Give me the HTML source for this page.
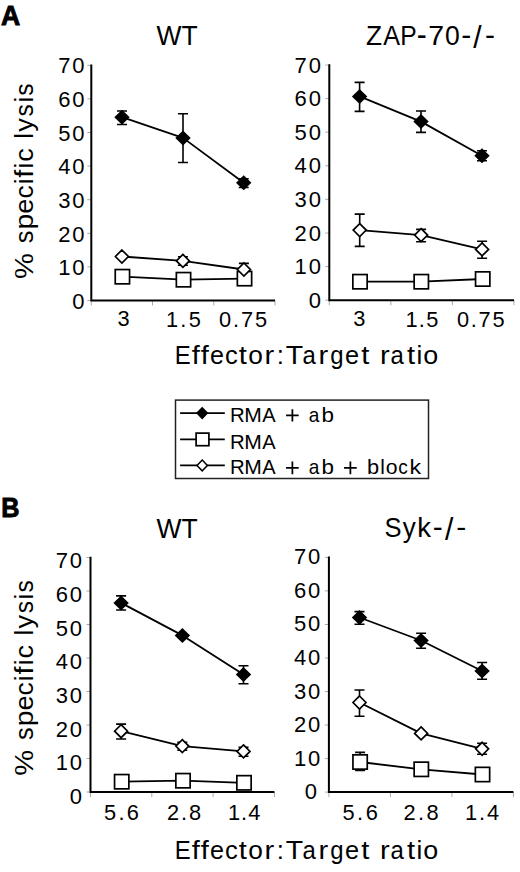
<!DOCTYPE html>
<html><head><meta charset="utf-8"><style>
html,body{margin:0;padding:0;background:#fff;}
svg{display:block;}
text{font-family:"Liberation Sans", sans-serif;fill:#000;}
</style></head><body>
<svg width="520" height="872" viewBox="0 0 520 872">
<rect width="520" height="872" fill="#fff"/>
<line x1="87.3" y1="300.5" x2="91.3" y2="300.5" stroke="#aaa" stroke-width="1"/>
<text x="86.40" y="308.90" font-size="22.0" letter-spacing="1.8" text-anchor="end">0</text>
<line x1="87.3" y1="266.9" x2="91.3" y2="266.9" stroke="#aaa" stroke-width="1"/>
<text x="86.40" y="275.24" font-size="22.0" letter-spacing="1.8" text-anchor="end">10</text>
<line x1="87.3" y1="233.3" x2="91.3" y2="233.3" stroke="#aaa" stroke-width="1"/>
<text x="86.40" y="241.58" font-size="22.0" letter-spacing="1.8" text-anchor="end">20</text>
<line x1="87.3" y1="199.7" x2="91.3" y2="199.7" stroke="#aaa" stroke-width="1"/>
<text x="86.40" y="207.92" font-size="22.0" letter-spacing="1.8" text-anchor="end">30</text>
<line x1="87.3" y1="166.1" x2="91.3" y2="166.1" stroke="#aaa" stroke-width="1"/>
<text x="86.40" y="174.26" font-size="22.0" letter-spacing="1.8" text-anchor="end">40</text>
<line x1="87.3" y1="132.5" x2="91.3" y2="132.5" stroke="#aaa" stroke-width="1"/>
<text x="86.40" y="140.60" font-size="22.0" letter-spacing="1.8" text-anchor="end">50</text>
<line x1="87.3" y1="98.9" x2="91.3" y2="98.9" stroke="#aaa" stroke-width="1"/>
<text x="86.40" y="106.94" font-size="22.0" letter-spacing="1.8" text-anchor="end">60</text>
<line x1="87.3" y1="65.3" x2="91.3" y2="65.3" stroke="#aaa" stroke-width="1"/>
<text x="86.40" y="73.28" font-size="22.0" letter-spacing="1.8" text-anchor="end">70</text>
<line x1="91.3" y1="300.5" x2="91.3" y2="305.5" stroke="#aaa" stroke-width="1"/>
<line x1="152.5" y1="300.5" x2="152.5" y2="305.5" stroke="#aaa" stroke-width="1"/>
<line x1="213.8" y1="300.5" x2="213.8" y2="305.5" stroke="#aaa" stroke-width="1"/>
<line x1="275.0" y1="300.5" x2="275.0" y2="305.5" stroke="#aaa" stroke-width="1"/>
<path d="M91.3 64.5V300.5H275.0" fill="none" stroke="#000" stroke-width="2"/>
<path d="M122.0 117.2V111.0M117.0 111.0H127.0" stroke="#000" stroke-width="1.6" fill="none"/>
<path d="M122.0 117.2V124.5M117.0 124.5H127.0" stroke="#000" stroke-width="1.6" fill="none"/>
<path d="M183.0 137.9V113.8M178.0 113.8H188.0" stroke="#000" stroke-width="1.6" fill="none"/>
<path d="M183.0 137.9V162.5M178.0 162.5H188.0" stroke="#000" stroke-width="1.6" fill="none"/>
<path d="M243.7 182.8V178.8M238.7 178.8H248.7" stroke="#000" stroke-width="1.6" fill="none"/>
<path d="M243.7 182.8V187.5M238.7 187.5H248.7" stroke="#000" stroke-width="1.6" fill="none"/>
<polyline points="122.0,117.2 183.0,137.9 243.7,182.8" fill="none" stroke="#000" stroke-width="1.8" stroke-linejoin="round"/>
<path d="M122.0 109.7L129.7 117.2L122.0 124.7L114.3 117.2Z" fill="#000"/>
<path d="M183.0 130.4L190.7 137.9L183.0 145.4L175.3 137.9Z" fill="#000"/>
<path d="M243.7 175.3L251.4 182.8L243.7 190.3L236.0 182.8Z" fill="#000"/>
<polyline points="122.4,276.7 183.5,279.7 244.5,278.6" fill="none" stroke="#000" stroke-width="1.8" stroke-linejoin="round"/>
<rect x="115.25" y="269.55" width="14.3" height="14.3" fill="#fff" stroke="#000" stroke-width="1.7"/>
<rect x="176.35" y="272.55" width="14.3" height="14.3" fill="#fff" stroke="#000" stroke-width="1.7"/>
<rect x="237.35" y="271.45" width="14.3" height="14.3" fill="#fff" stroke="#000" stroke-width="1.7"/>
<path d="M182.9 260.9V256.7M177.9 256.7H187.9" stroke="#000" stroke-width="1.6" fill="none"/>
<path d="M182.9 260.9V265.2M177.9 265.2H187.9" stroke="#000" stroke-width="1.6" fill="none"/>
<path d="M243.9 269.5V263.4M238.9 263.4H248.9" stroke="#000" stroke-width="1.6" fill="none"/>
<polyline points="121.9,256.5 182.9,260.9 243.9,269.5" fill="none" stroke="#000" stroke-width="1.8" stroke-linejoin="round"/>
<path d="M121.9 250.0L128.4 256.5L121.9 263.0L115.4 256.5Z" fill="#fff" stroke="#000" stroke-width="1.7"/>
<path d="M182.9 254.4L189.4 260.9L182.9 267.4L176.4 260.9Z" fill="#fff" stroke="#000" stroke-width="1.7"/>
<path d="M243.9 263.0L250.4 269.5L243.9 276.0L237.4 269.5Z" fill="#fff" stroke="#000" stroke-width="1.7"/>
<line x1="325.3" y1="300.2" x2="329.3" y2="300.2" stroke="#aaa" stroke-width="1"/>
<text x="322.70" y="307.83" font-size="22.0" letter-spacing="1.8" text-anchor="end">0</text>
<line x1="325.3" y1="266.6" x2="329.3" y2="266.6" stroke="#aaa" stroke-width="1"/>
<text x="322.70" y="274.23" font-size="22.0" letter-spacing="1.8" text-anchor="end">10</text>
<line x1="325.3" y1="233.0" x2="329.3" y2="233.0" stroke="#aaa" stroke-width="1"/>
<text x="322.70" y="240.63" font-size="22.0" letter-spacing="1.8" text-anchor="end">20</text>
<line x1="325.3" y1="199.4" x2="329.3" y2="199.4" stroke="#aaa" stroke-width="1"/>
<text x="322.70" y="207.03" font-size="22.0" letter-spacing="1.8" text-anchor="end">30</text>
<line x1="325.3" y1="165.8" x2="329.3" y2="165.8" stroke="#aaa" stroke-width="1"/>
<text x="322.70" y="173.43" font-size="22.0" letter-spacing="1.8" text-anchor="end">40</text>
<line x1="325.3" y1="132.2" x2="329.3" y2="132.2" stroke="#aaa" stroke-width="1"/>
<text x="322.70" y="139.83" font-size="22.0" letter-spacing="1.8" text-anchor="end">50</text>
<line x1="325.3" y1="98.6" x2="329.3" y2="98.6" stroke="#aaa" stroke-width="1"/>
<text x="322.70" y="106.23" font-size="22.0" letter-spacing="1.8" text-anchor="end">60</text>
<line x1="325.3" y1="65.0" x2="329.3" y2="65.0" stroke="#aaa" stroke-width="1"/>
<text x="322.70" y="72.63" font-size="22.0" letter-spacing="1.8" text-anchor="end">70</text>
<line x1="329.3" y1="300.2" x2="329.3" y2="305.2" stroke="#aaa" stroke-width="1"/>
<line x1="390.9" y1="300.2" x2="390.9" y2="305.2" stroke="#aaa" stroke-width="1"/>
<line x1="452.4" y1="300.2" x2="452.4" y2="305.2" stroke="#aaa" stroke-width="1"/>
<line x1="514.0" y1="300.2" x2="514.0" y2="305.2" stroke="#aaa" stroke-width="1"/>
<path d="M329.3 64.2V300.2H514.0" fill="none" stroke="#000" stroke-width="2"/>
<path d="M359.6 96.4V82.4M354.6 82.4H364.6" stroke="#000" stroke-width="1.6" fill="none"/>
<path d="M359.6 96.4V111.4M354.6 111.4H364.6" stroke="#000" stroke-width="1.6" fill="none"/>
<path d="M421.0 121.6V111.0M416.0 111.0H426.0" stroke="#000" stroke-width="1.6" fill="none"/>
<path d="M421.0 121.6V132.4M416.0 132.4H426.0" stroke="#000" stroke-width="1.6" fill="none"/>
<path d="M482.0 155.8V150.8M477.0 150.8H487.0" stroke="#000" stroke-width="1.6" fill="none"/>
<path d="M482.0 155.8V160.8M477.0 160.8H487.0" stroke="#000" stroke-width="1.6" fill="none"/>
<polyline points="359.6,96.4 421.0,121.6 482.0,155.8" fill="none" stroke="#000" stroke-width="1.8" stroke-linejoin="round"/>
<path d="M359.6 88.9L367.3 96.4L359.6 103.9L351.9 96.4Z" fill="#000"/>
<path d="M421.0 114.1L428.7 121.6L421.0 129.1L413.3 121.6Z" fill="#000"/>
<path d="M482.0 148.3L489.7 155.8L482.0 163.3L474.3 155.8Z" fill="#000"/>
<polyline points="360.0,281.7 421.3,281.7 482.7,279.0" fill="none" stroke="#000" stroke-width="1.8" stroke-linejoin="round"/>
<rect x="352.85" y="274.55" width="14.3" height="14.3" fill="#fff" stroke="#000" stroke-width="1.7"/>
<rect x="414.15" y="274.55" width="14.3" height="14.3" fill="#fff" stroke="#000" stroke-width="1.7"/>
<rect x="475.55" y="271.85" width="14.3" height="14.3" fill="#fff" stroke="#000" stroke-width="1.7"/>
<path d="M359.7 230.1V214.1M354.7 214.1H364.7" stroke="#000" stroke-width="1.6" fill="none"/>
<path d="M359.7 230.1V246.4M354.7 246.4H364.7" stroke="#000" stroke-width="1.6" fill="none"/>
<path d="M421.1 235.1V229.4M416.1 229.4H426.1" stroke="#000" stroke-width="1.6" fill="none"/>
<path d="M421.1 235.1V241.8M416.1 241.8H426.1" stroke="#000" stroke-width="1.6" fill="none"/>
<path d="M482.1 249.4V241.3M477.1 241.3H487.1" stroke="#000" stroke-width="1.6" fill="none"/>
<path d="M482.1 249.4V258.3M477.1 258.3H487.1" stroke="#000" stroke-width="1.6" fill="none"/>
<polyline points="359.7,230.1 421.1,235.1 482.1,249.4" fill="none" stroke="#000" stroke-width="1.8" stroke-linejoin="round"/>
<path d="M359.7 223.6L366.2 230.1L359.7 236.6L353.2 230.1Z" fill="#fff" stroke="#000" stroke-width="1.7"/>
<path d="M421.1 228.6L427.6 235.1L421.1 241.6L414.6 235.1Z" fill="#fff" stroke="#000" stroke-width="1.7"/>
<path d="M482.1 242.9L488.6 249.4L482.1 255.9L475.6 249.4Z" fill="#fff" stroke="#000" stroke-width="1.7"/>
<line x1="86.5" y1="792.0" x2="90.5" y2="792.0" stroke="#aaa" stroke-width="1"/>
<text x="83.80" y="803.91" font-size="22.0" letter-spacing="1.8" text-anchor="end">0</text>
<line x1="86.5" y1="758.5" x2="90.5" y2="758.5" stroke="#aaa" stroke-width="1"/>
<text x="83.80" y="770.27" font-size="22.0" letter-spacing="1.8" text-anchor="end">10</text>
<line x1="86.5" y1="725.0" x2="90.5" y2="725.0" stroke="#aaa" stroke-width="1"/>
<text x="83.80" y="736.63" font-size="22.0" letter-spacing="1.8" text-anchor="end">20</text>
<line x1="86.5" y1="691.5" x2="90.5" y2="691.5" stroke="#aaa" stroke-width="1"/>
<text x="83.80" y="702.99" font-size="22.0" letter-spacing="1.8" text-anchor="end">30</text>
<line x1="86.5" y1="658.0" x2="90.5" y2="658.0" stroke="#aaa" stroke-width="1"/>
<text x="83.80" y="669.35" font-size="22.0" letter-spacing="1.8" text-anchor="end">40</text>
<line x1="86.5" y1="624.5" x2="90.5" y2="624.5" stroke="#aaa" stroke-width="1"/>
<text x="83.80" y="635.71" font-size="22.0" letter-spacing="1.8" text-anchor="end">50</text>
<line x1="86.5" y1="591.0" x2="90.5" y2="591.0" stroke="#aaa" stroke-width="1"/>
<text x="83.80" y="602.07" font-size="22.0" letter-spacing="1.8" text-anchor="end">60</text>
<line x1="86.5" y1="557.5" x2="90.5" y2="557.5" stroke="#aaa" stroke-width="1"/>
<text x="83.80" y="568.43" font-size="22.0" letter-spacing="1.8" text-anchor="end">70</text>
<line x1="90.5" y1="792.0" x2="90.5" y2="797.0" stroke="#aaa" stroke-width="1"/>
<line x1="151.8" y1="792.0" x2="151.8" y2="797.0" stroke="#aaa" stroke-width="1"/>
<line x1="213.1" y1="792.0" x2="213.1" y2="797.0" stroke="#aaa" stroke-width="1"/>
<line x1="274.4" y1="792.0" x2="274.4" y2="797.0" stroke="#aaa" stroke-width="1"/>
<path d="M90.5 556.7V792.0H274.4" fill="none" stroke="#000" stroke-width="2"/>
<path d="M121.1 602.9V595.9M116.1 595.9H126.1" stroke="#000" stroke-width="1.6" fill="none"/>
<path d="M121.1 602.9V610.0M116.1 610.0H126.1" stroke="#000" stroke-width="1.6" fill="none"/>
<path d="M243.5 674.5V665.8M238.5 665.8H248.5" stroke="#000" stroke-width="1.6" fill="none"/>
<path d="M243.5 674.5V683.8M238.5 683.8H248.5" stroke="#000" stroke-width="1.6" fill="none"/>
<polyline points="121.1,602.9 182.4,635.4 243.5,674.5" fill="none" stroke="#000" stroke-width="1.8" stroke-linejoin="round"/>
<path d="M121.1 595.4L128.8 602.9L121.1 610.4L113.4 602.9Z" fill="#000"/>
<path d="M182.4 627.9L190.1 635.4L182.4 642.9L174.7 635.4Z" fill="#000"/>
<path d="M243.5 667.0L251.2 674.5L243.5 682.0L235.8 674.5Z" fill="#000"/>
<polyline points="121.7,781.7 183.0,780.7 244.0,782.8" fill="none" stroke="#000" stroke-width="1.8" stroke-linejoin="round"/>
<rect x="114.55" y="774.55" width="14.3" height="14.3" fill="#fff" stroke="#000" stroke-width="1.7"/>
<rect x="175.85" y="773.55" width="14.3" height="14.3" fill="#fff" stroke="#000" stroke-width="1.7"/>
<rect x="236.85" y="775.65" width="14.3" height="14.3" fill="#fff" stroke="#000" stroke-width="1.7"/>
<path d="M121.1 731.2V724.1M116.1 724.1H126.1" stroke="#000" stroke-width="1.6" fill="none"/>
<path d="M121.1 731.2V739.0M116.1 739.0H126.1" stroke="#000" stroke-width="1.6" fill="none"/>
<path d="M182.3 746.1V742.2M177.3 742.2H187.3" stroke="#000" stroke-width="1.6" fill="none"/>
<path d="M182.3 746.1V750.2M177.3 750.2H187.3" stroke="#000" stroke-width="1.6" fill="none"/>
<path d="M243.5 751.4V747.2M238.5 747.2H248.5" stroke="#000" stroke-width="1.6" fill="none"/>
<path d="M243.5 751.4V756.2M238.5 756.2H248.5" stroke="#000" stroke-width="1.6" fill="none"/>
<polyline points="121.1,731.2 182.3,746.1 243.5,751.4" fill="none" stroke="#000" stroke-width="1.8" stroke-linejoin="round"/>
<path d="M121.1 724.7L127.6 731.2L121.1 737.7L114.6 731.2Z" fill="#fff" stroke="#000" stroke-width="1.7"/>
<path d="M182.3 739.6L188.8 746.1L182.3 752.6L175.8 746.1Z" fill="#fff" stroke="#000" stroke-width="1.7"/>
<path d="M243.5 744.9L250.0 751.4L243.5 757.9L237.0 751.4Z" fill="#fff" stroke="#000" stroke-width="1.7"/>
<line x1="324.9" y1="792.1" x2="328.9" y2="792.1" stroke="#aaa" stroke-width="1"/>
<text x="318.70" y="799.33" font-size="22.0" letter-spacing="1.8" text-anchor="end">0</text>
<line x1="324.9" y1="758.6" x2="328.9" y2="758.6" stroke="#aaa" stroke-width="1"/>
<text x="322.10" y="765.73" font-size="22.0" letter-spacing="1.8" text-anchor="end">10</text>
<line x1="324.9" y1="725.0" x2="328.9" y2="725.0" stroke="#aaa" stroke-width="1"/>
<text x="322.10" y="732.13" font-size="22.0" letter-spacing="1.8" text-anchor="end">20</text>
<line x1="324.9" y1="691.5" x2="328.9" y2="691.5" stroke="#aaa" stroke-width="1"/>
<text x="322.10" y="698.53" font-size="22.0" letter-spacing="1.8" text-anchor="end">30</text>
<line x1="324.9" y1="658.0" x2="328.9" y2="658.0" stroke="#aaa" stroke-width="1"/>
<text x="322.10" y="664.93" font-size="22.0" letter-spacing="1.8" text-anchor="end">40</text>
<line x1="324.9" y1="624.5" x2="328.9" y2="624.5" stroke="#aaa" stroke-width="1"/>
<text x="322.10" y="631.33" font-size="22.0" letter-spacing="1.8" text-anchor="end">50</text>
<line x1="324.9" y1="590.9" x2="328.9" y2="590.9" stroke="#aaa" stroke-width="1"/>
<text x="322.10" y="597.73" font-size="22.0" letter-spacing="1.8" text-anchor="end">60</text>
<line x1="324.9" y1="557.4" x2="328.9" y2="557.4" stroke="#aaa" stroke-width="1"/>
<text x="322.10" y="564.13" font-size="22.0" letter-spacing="1.8" text-anchor="end">70</text>
<line x1="328.9" y1="792.1" x2="328.9" y2="797.1" stroke="#aaa" stroke-width="1"/>
<line x1="390.4" y1="792.1" x2="390.4" y2="797.1" stroke="#aaa" stroke-width="1"/>
<line x1="451.9" y1="792.1" x2="451.9" y2="797.1" stroke="#aaa" stroke-width="1"/>
<line x1="513.4" y1="792.1" x2="513.4" y2="797.1" stroke="#aaa" stroke-width="1"/>
<path d="M328.9 556.6V792.1H513.4" fill="none" stroke="#000" stroke-width="2"/>
<path d="M359.5 617.5V611.6M354.5 611.6H364.5" stroke="#000" stroke-width="1.6" fill="none"/>
<path d="M359.5 617.5V624.3M354.5 624.3H364.5" stroke="#000" stroke-width="1.6" fill="none"/>
<path d="M421.1 640.5V633.3M416.1 633.3H426.1" stroke="#000" stroke-width="1.6" fill="none"/>
<path d="M421.1 640.5V648.3M416.1 648.3H426.1" stroke="#000" stroke-width="1.6" fill="none"/>
<path d="M482.1 671.0V662.5M477.1 662.5H487.1" stroke="#000" stroke-width="1.6" fill="none"/>
<path d="M482.1 671.0V679.3M477.1 679.3H487.1" stroke="#000" stroke-width="1.6" fill="none"/>
<polyline points="359.5,617.5 421.1,640.5 482.1,671.0" fill="none" stroke="#000" stroke-width="1.8" stroke-linejoin="round"/>
<path d="M359.5 610.0L367.2 617.5L359.5 625.0L351.8 617.5Z" fill="#000"/>
<path d="M421.1 633.0L428.8 640.5L421.1 648.0L413.4 640.5Z" fill="#000"/>
<path d="M482.1 663.5L489.8 671.0L482.1 678.5L474.4 671.0Z" fill="#000"/>
<path d="M360.1 762.0V752.4M355.1 752.4H365.1" stroke="#000" stroke-width="1.6" fill="none"/>
<path d="M360.1 762.0V770.4M355.1 770.4H365.1" stroke="#000" stroke-width="1.6" fill="none"/>
<polyline points="360.1,762.0 421.3,769.3 482.5,774.5" fill="none" stroke="#000" stroke-width="1.8" stroke-linejoin="round"/>
<rect x="352.95" y="754.85" width="14.3" height="14.3" fill="#fff" stroke="#000" stroke-width="1.7"/>
<rect x="414.15" y="762.15" width="14.3" height="14.3" fill="#fff" stroke="#000" stroke-width="1.7"/>
<rect x="475.35" y="767.35" width="14.3" height="14.3" fill="#fff" stroke="#000" stroke-width="1.7"/>
<path d="M359.5 702.5V690.0M354.5 690.0H364.5" stroke="#000" stroke-width="1.6" fill="none"/>
<path d="M359.5 702.5V716.3M354.5 716.3H364.5" stroke="#000" stroke-width="1.6" fill="none"/>
<path d="M482.1 748.8V743.3M477.1 743.3H487.1" stroke="#000" stroke-width="1.6" fill="none"/>
<path d="M482.1 748.8V754.3M477.1 754.3H487.1" stroke="#000" stroke-width="1.6" fill="none"/>
<polyline points="359.5,702.5 421.1,733.4 482.1,748.8" fill="none" stroke="#000" stroke-width="1.8" stroke-linejoin="round"/>
<path d="M359.5 696.0L366.0 702.5L359.5 709.0L353.0 702.5Z" fill="#fff" stroke="#000" stroke-width="1.7"/>
<path d="M421.1 726.9L427.6 733.4L421.1 739.9L414.6 733.4Z" fill="#fff" stroke="#000" stroke-width="1.7"/>
<path d="M482.1 742.3L488.6 748.8L482.1 755.3L475.6 748.8Z" fill="#fff" stroke="#000" stroke-width="1.7"/>
<text transform="translate(366.07 44.80) scale(0.981 1.000)" font-size="26.8">Z</text>
<text transform="translate(383.15 44.80) scale(0.940 1.000)" font-size="26.8">A</text>
<text transform="translate(400.37 44.80) scale(0.920 1.000)" font-size="26.8">P</text>
<text transform="translate(416.80 45.74) scale(1.120 1.242)" font-size="26.8">-</text>
<text transform="translate(428.29 44.80) scale(1.063 1.000)" font-size="26.8">7</text>
<text transform="translate(444.96 44.80) scale(0.991 1.000)" font-size="26.8">0</text>
<text transform="translate(461.33 45.02) scale(1.120 1.122)" font-size="26.8">-</text>
<text transform="translate(473.23 48.49) scale(1.120 1.184)" font-size="26.8">/</text>
<text transform="translate(484.95 45.02) scale(1.120 1.122)" font-size="26.8">-</text>
<text transform="translate(384.44 537.20) scale(0.953 1.000)" font-size="26.8">S</text>
<text transform="translate(402.74 537.20) scale(0.971 1.000)" font-size="26.8">y</text>
<text transform="translate(417.35 537.20) scale(1.023 1.000)" font-size="26.8">k</text>
<text transform="translate(432.75 536.87) scale(1.120 1.099)" font-size="26.8">-</text>
<text transform="translate(444.93 540.49) scale(1.120 1.184)" font-size="26.8">/</text>
<text transform="translate(456.35 536.29) scale(1.120 1.003)" font-size="26.8">-</text>
<text transform="translate(174.66 363.80) scale(0.920 1.000)" font-size="26.0">E</text>
<text transform="translate(191.78 363.80) scale(1.120 1.000)" font-size="26.0">f</text>
<text transform="translate(200.83 363.80) scale(1.120 1.000)" font-size="26.0">f</text>
<text transform="translate(209.93 363.80) scale(0.967 1.000)" font-size="26.0">e</text>
<text transform="translate(224.92 363.80) scale(0.981 1.000)" font-size="26.0">c</text>
<text transform="translate(238.74 363.80) scale(1.120 1.000)" font-size="26.0">t</text>
<text transform="translate(248.20 363.80) scale(1.010 1.000)" font-size="26.0">o</text>
<text transform="translate(264.53 363.80) scale(1.120 1.000)" font-size="26.0">r</text>
<text transform="translate(276.84 363.80)" font-size="26.0">:</text>
<text transform="translate(285.66 363.80) scale(1.095 1.000)" font-size="26.0">T</text>
<text transform="translate(302.39 363.80) scale(0.920 1.000)" font-size="26.0">a</text>
<text transform="translate(318.43 363.80) scale(1.120 1.000)" font-size="26.0">r</text>
<text transform="translate(330.17 363.80) scale(0.920 1.000)" font-size="26.0">g</text>
<text transform="translate(345.12 363.80) scale(0.975 1.000)" font-size="26.0">e</text>
<text transform="translate(361.19 363.80) scale(1.120 1.000)" font-size="26.0">t</text>
<text transform="translate(380.08 363.80) scale(1.120 1.000)" font-size="26.0">r</text>
<text transform="translate(390.44 363.80) scale(0.920 1.000)" font-size="26.0">a</text>
<text transform="translate(406.94 363.80) scale(1.120 1.000)" font-size="26.0">t</text>
<text transform="translate(416.47 363.80)" font-size="26.0">i</text>
<text transform="translate(423.17 363.80) scale(1.035 1.000)" font-size="26.0">o</text>
<text transform="translate(174.66 859.00) scale(0.920 1.000)" font-size="26.0">E</text>
<text transform="translate(191.78 859.00) scale(1.120 1.000)" font-size="26.0">f</text>
<text transform="translate(200.83 859.00) scale(1.120 1.000)" font-size="26.0">f</text>
<text transform="translate(209.93 859.00) scale(0.967 1.000)" font-size="26.0">e</text>
<text transform="translate(224.92 859.00) scale(0.981 1.000)" font-size="26.0">c</text>
<text transform="translate(238.74 859.00) scale(1.120 1.000)" font-size="26.0">t</text>
<text transform="translate(248.20 859.00) scale(1.010 1.000)" font-size="26.0">o</text>
<text transform="translate(264.53 859.00) scale(1.120 1.000)" font-size="26.0">r</text>
<text transform="translate(276.84 859.00)" font-size="26.0">:</text>
<text transform="translate(285.66 859.00) scale(1.095 1.000)" font-size="26.0">T</text>
<text transform="translate(302.39 859.00) scale(0.920 1.000)" font-size="26.0">a</text>
<text transform="translate(318.43 859.00) scale(1.120 1.000)" font-size="26.0">r</text>
<text transform="translate(330.17 859.00) scale(0.920 1.000)" font-size="26.0">g</text>
<text transform="translate(345.12 859.00) scale(0.975 1.000)" font-size="26.0">e</text>
<text transform="translate(361.19 859.00) scale(1.120 1.000)" font-size="26.0">t</text>
<text transform="translate(380.08 859.00) scale(1.120 1.000)" font-size="26.0">r</text>
<text transform="translate(390.44 859.00) scale(0.920 1.000)" font-size="26.0">a</text>
<text transform="translate(406.94 859.00) scale(1.120 1.000)" font-size="26.0">t</text>
<text transform="translate(416.47 859.00)" font-size="26.0">i</text>
<text transform="translate(423.17 859.00) scale(1.035 1.000)" font-size="26.0">o</text>
<text transform="translate(229.93 421.60) scale(0.984 1.000)" font-size="20.7">R</text>
<text transform="translate(244.27 421.60) scale(1.018 1.000)" font-size="20.7">M</text>
<text transform="translate(262.36 421.60) scale(0.969 1.000)" font-size="20.7">A</text>
<path d="M286.05 415.38H298.70M292.38 409.30V421.45" stroke="#000" stroke-width="1.75" fill="none"/>
<text transform="translate(308.82 421.60) scale(0.920 1.000)" font-size="20.7">a</text>
<text transform="translate(321.55 421.60) scale(1.085 1.000)" font-size="20.7">b</text>
<text transform="translate(229.93 448.60) scale(0.984 1.000)" font-size="20.7">R</text>
<text transform="translate(244.27 448.60) scale(1.018 1.000)" font-size="20.7">M</text>
<text transform="translate(262.36 448.60) scale(0.969 1.000)" font-size="20.7">A</text>
<text transform="translate(229.93 474.40) scale(0.984 1.000)" font-size="20.7">R</text>
<text transform="translate(244.27 474.40) scale(1.018 1.000)" font-size="20.7">M</text>
<text transform="translate(262.36 474.40) scale(0.969 1.000)" font-size="20.7">A</text>
<path d="M286.05 467.90H298.70M292.38 461.50V474.30" stroke="#000" stroke-width="1.75" fill="none"/>
<text transform="translate(308.82 474.40) scale(0.920 1.000)" font-size="20.7">a</text>
<text transform="translate(321.55 474.40) scale(1.085 1.000)" font-size="20.7">b</text>
<path d="M344.05 467.90H356.70M350.38 461.50V474.30" stroke="#000" stroke-width="1.75" fill="none"/>
<text transform="translate(366.90 474.40) scale(1.053 1.000)" font-size="20.7">b</text>
<text transform="translate(380.30 474.40)" font-size="20.7">l</text>
<text transform="translate(385.81 474.40) scale(1.023 1.000)" font-size="20.7">o</text>
<text transform="translate(398.14 474.40) scale(0.920 1.000)" font-size="20.7">c</text>
<text transform="translate(409.51 474.40) scale(1.120 1.000)" font-size="20.7">k</text>
<text transform="translate(32.90 279.00) rotate(-90) scale(1.120 1)" font-size="26.0">%</text>
<text transform="translate(32.90 243.20) rotate(-90) scale(0.970 1)" font-size="26.0">s</text>
<text transform="translate(32.90 229.52) rotate(-90) scale(1.086 1)" font-size="26.0">p</text>
<text transform="translate(32.90 213.65) rotate(-90) scale(1.041 1)" font-size="26.0">e</text>
<text transform="translate(32.90 198.62) rotate(-90) scale(1.017 1)" font-size="26.0">c</text>
<text transform="translate(32.90 184.33) rotate(-90) scale(1.000 1)" font-size="26.0">i</text>
<text transform="translate(32.90 177.82) rotate(-90) scale(1.120 1)" font-size="26.0">f</text>
<text transform="translate(32.90 168.48) rotate(-90) scale(1.000 1)" font-size="26.0">i</text>
<text transform="translate(32.90 161.75) rotate(-90) scale(1.044 1)" font-size="26.0">c</text>
<text transform="translate(32.90 138.74) rotate(-90) scale(1.000 1)" font-size="26.0">l</text>
<text transform="translate(32.90 131.67) rotate(-90) scale(1.048 1)" font-size="26.0">y</text>
<text transform="translate(32.90 116.38) rotate(-90) scale(0.944 1)" font-size="26.0">s</text>
<text transform="translate(32.90 102.58) rotate(-90) scale(1.000 1)" font-size="26.0">i</text>
<text transform="translate(32.90 95.78) rotate(-90) scale(0.944 1)" font-size="26.0">s</text>
<text transform="translate(32.90 775.80) rotate(-90) scale(1.120 1)" font-size="26.0">%</text>
<text transform="translate(32.90 740.00) rotate(-90) scale(0.970 1)" font-size="26.0">s</text>
<text transform="translate(32.90 726.32) rotate(-90) scale(1.086 1)" font-size="26.0">p</text>
<text transform="translate(32.90 710.45) rotate(-90) scale(1.041 1)" font-size="26.0">e</text>
<text transform="translate(32.90 695.42) rotate(-90) scale(1.017 1)" font-size="26.0">c</text>
<text transform="translate(32.90 681.13) rotate(-90) scale(1.000 1)" font-size="26.0">i</text>
<text transform="translate(32.90 674.62) rotate(-90) scale(1.120 1)" font-size="26.0">f</text>
<text transform="translate(32.90 665.28) rotate(-90) scale(1.000 1)" font-size="26.0">i</text>
<text transform="translate(32.90 658.55) rotate(-90) scale(1.044 1)" font-size="26.0">c</text>
<text transform="translate(32.90 635.54) rotate(-90) scale(1.000 1)" font-size="26.0">l</text>
<text transform="translate(32.90 628.47) rotate(-90) scale(1.048 1)" font-size="26.0">y</text>
<text transform="translate(32.90 613.18) rotate(-90) scale(0.944 1)" font-size="26.0">s</text>
<text transform="translate(32.90 599.38) rotate(-90) scale(1.000 1)" font-size="26.0">i</text>
<text transform="translate(32.90 592.58) rotate(-90) scale(0.944 1)" font-size="26.0">s</text>
<text transform="translate(1.00 25.00)" font-size="27.00" font-weight="bold" stroke="#000" stroke-width="0.9" textLength="19.21" lengthAdjust="spacingAndGlyphs">A</text>
<text transform="translate(1.20 517.00)" font-size="27.00" font-weight="bold" stroke="#000" stroke-width="0.9" textLength="18.22" lengthAdjust="spacingAndGlyphs">B</text>
<text transform="translate(156.50 44.50)" font-size="26.80" textLength="41.15" lengthAdjust="spacingAndGlyphs">WT</text>
<text transform="translate(156.50 537.50)" font-size="26.80" textLength="41.15" lengthAdjust="spacingAndGlyphs">WT</text>
<text transform="translate(117.40 326.20)" font-size="21.80" textLength="28.10" lengthAdjust="spacing">3</text>
<text transform="translate(166.00 327.00)" font-size="21.80" textLength="34.77" lengthAdjust="spacing">1.5</text>
<text transform="translate(219.00 327.00)" font-size="21.80" textLength="48.09" lengthAdjust="spacing">0.75</text>
<text transform="translate(353.20 326.20)" font-size="21.80" textLength="23.46" lengthAdjust="spacing">3</text>
<text transform="translate(405.40 327.00)" font-size="21.80" textLength="32.93" lengthAdjust="spacing">1.5</text>
<text transform="translate(457.00 327.00)" font-size="21.80" textLength="47.54" lengthAdjust="spacing">0.75</text>
<text transform="translate(104.00 820.20)" font-size="21.80" textLength="34.88" lengthAdjust="spacing">5.6</text>
<text transform="translate(167.00 820.20)" font-size="21.80" textLength="34.13" lengthAdjust="spacing">2.8</text>
<text transform="translate(228.00 820.20)" font-size="21.80" textLength="32.26" lengthAdjust="spacing">1.4</text>
<text transform="translate(342.40 820.20)" font-size="21.80" textLength="35.49" lengthAdjust="spacing">5.6</text>
<text transform="translate(403.60 820.20)" font-size="21.80" textLength="34.99" lengthAdjust="spacing">2.8</text>
<text transform="translate(465.00 820.20)" font-size="21.80" textLength="34.24" lengthAdjust="spacing">1.4</text>
<rect x="175.5" y="400.1" width="253" height="78.4" fill="none" stroke="#222" stroke-width="1.5"/>
<line x1="180.1" y1="413.1" x2="224.8" y2="413.1" stroke="#000" stroke-width="1.8"/>
<path d="M202.2 406.70000000000005L208.39999999999998 413.1L202.2 419.5L196.0 413.1Z" fill="#000"/>
<line x1="180.1" y1="439.4" x2="224.8" y2="439.4" stroke="#000" stroke-width="1.8"/>
<rect x="196.1" y="433.09999999999997" width="12.8" height="12.6" fill="#fff" stroke="#000" stroke-width="1.7"/>
<line x1="180.1" y1="465.4" x2="224.8" y2="465.4" stroke="#000" stroke-width="1.8"/>
<path d="M202.2 460.0L207.39999999999998 465.4L202.2 470.79999999999995L197.0 465.4Z" fill="#fff" stroke="#000" stroke-width="1.5"/>
</svg>
</body></html>
